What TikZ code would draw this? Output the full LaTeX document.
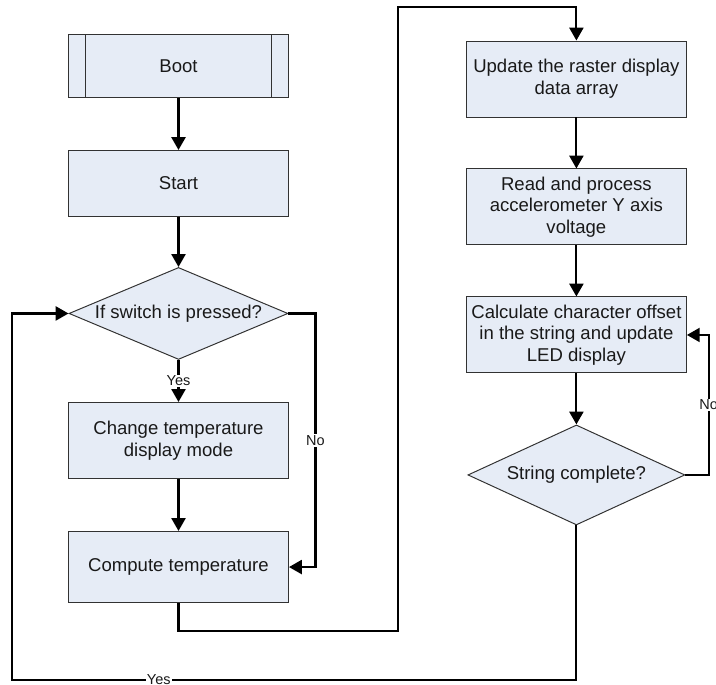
\documentclass[tikz,border=0pt]{standalone}
\usepackage{fontspec}
\setmainfont{Liberation Sans}
\usetikzlibrary{positioning,shapes.geometric,arrows.meta}
\definecolor{boxfill}{RGB}{230,236,246}
\definecolor{boxline}{RGB}{50,50,50}

\begin{document}
\begin{tikzpicture}[box/.style={draw=boxline,line width=0.7pt,fill=boxfill,rectangle,
				      minimum width=5.5cm,minimum height=1.9cm,align=center,
				      inner sep=0pt,text=black!90,font=\fontsize{13.2}{15.4}\selectfont},
			      bootbox/.style={box,minimum height=1.575cm,
				      path picture={\draw[boxline,line width=0.7pt]
						      ([xshift=0.425cm]path picture bounding box.north west) --
						      ([xshift=0.425cm]path picture bounding box.south west)
						      ([xshift=-0.425cm]path picture bounding box.north east) --
						      ([xshift=-0.425cm]path picture bounding box.south east);}},
			      test/.style={draw=boxline,line width=0.7pt,fill=boxfill,diamond,inner sep=0pt,
				      text=black!90,font=\fontsize{13.2}{15.4}\selectfont},
			      flow/.style={line width=1.5pt,-{Triangle[length=3.2mm,width=3.5mm]}},
			      tag/.style={fill=white,inner sep=1pt,text=black!90,font=\fontsize{10.3}{12}\selectfont}]
		      \useasboundingbox (0,0) rectangle (17.9,-17.125);
		      % left column: boot and temperature
		      \node[bootbox] (boot) at (4.4625,-1.65) {Boot};
		      \node[box,minimum height=1.65cm,below=1.3cm of boot] (start) {Start};
		      \node[test,minimum width=5.475cm,minimum height=2.3cm,below=1.25cm of start] (pressed)
			      {\makebox[0pt][c]{If switch is pressed?}};
		      \node[box,below=1.05cm of pressed] (changemode) {Change temperature\\display mode};
		      \node[box,minimum height=1.78cm,below=1.3cm of changemode] (compute) {Compute temperature};
		      % right column: display
		      \node[box] (update) at (14.41,-1.975) {Update the raster display\\data array};
		      \node[box,below=1.275cm of update] (readacc) {Read and process\\accelerometer Y axis\\voltage};
		      \node[box,below=1.275cm of readacc] (calcoffset)
			      {Calculate character offset\\in the string and update\\LED display};
		      \node[test,minimum width=5.425cm,minimum height=2.5cm,below=1.275cm of calcoffset] (strdone)
			      {\makebox[0pt][c]{String complete?}};
		      % corners of the long connectors
		      \coordinate (jumpbot) at (9.95,-15.775);
		      \coordinate (jumptop) at (9.95,-0.175);
		      \coordinate (loopcorner) at (0.3,-17.0);
		      \draw[flow] (boot) -- (start);
		      \draw[flow] (start) -- (pressed);
		      \draw[flow] (pressed) -- node[tag] {Yes} (changemode);
		      \draw[flow] (pressed.east) -- ++(0.675,0) |- node[tag,pos=0.25] {No} (compute.east);
		      \draw[flow] (changemode) -- (compute);
		      \draw[flow] (compute.south) |- (jumpbot) -- (jumptop) -| (update.north);
		      \draw[flow] (update) -- (readacc);
		      \draw[flow] (readacc) -- (calcoffset);
		      \draw[flow] (calcoffset) -- (strdone);
		      \draw[flow] (strdone.east) -- ++(0.58,0) |- node[tag,pos=0.25] {No} (calcoffset.east);
		      \draw[flow] (strdone.south) |- node[tag,pos=0.87] {Yes} (loopcorner) |- (pressed.west);
	      \end{tikzpicture}
\end{document}
